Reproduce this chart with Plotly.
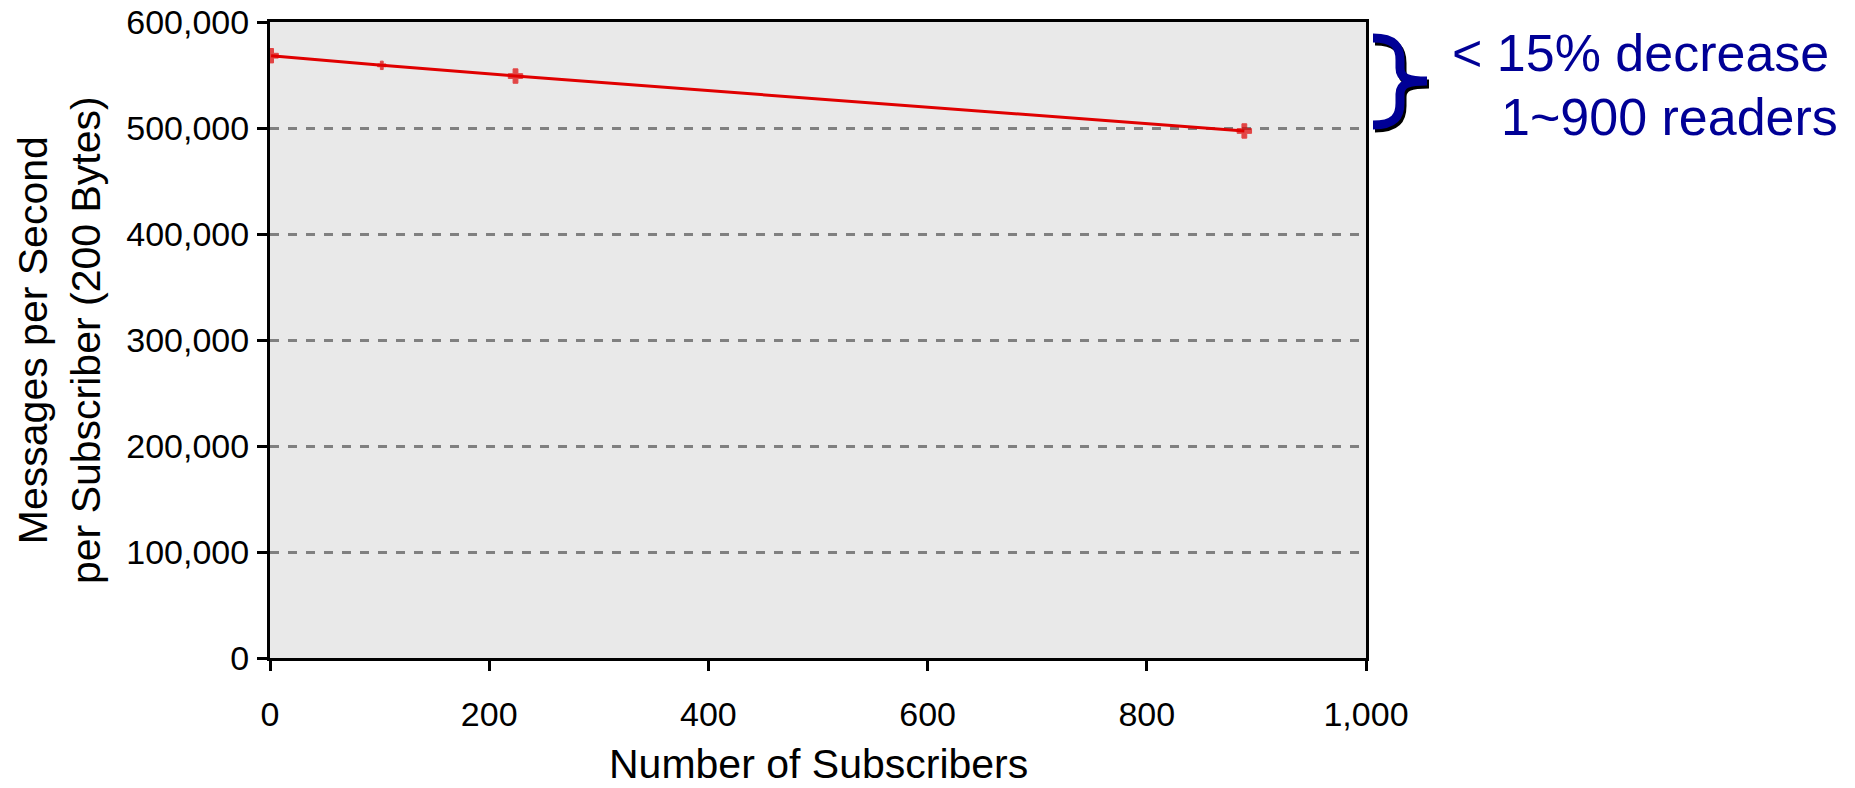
import plotly.graph_objects as go

# ---- data ----
subscribers = [1, 102, 224, 889]
msgs_per_sec = [568200, 559100, 549000, 497200]

x_tick_vals = [0, 200, 400, 600, 800, 1000]
y_tick_vals = [0, 100000, 200000, 300000, 400000, 500000, 600000]

x_title = "Number of Subscribers"
y_title = "Messages per Second<br>per Subscriber (200 Bytes)"
note_line1 = "< 15% decrease"
note_line2 = "1~900 readers"

# ---- layout geometry (pixels) ----
W, H = 1855, 788
L, R, T, B = 270, 1366, 22, 658
PW, PH = R - L, B - T


def px(X):
    return (X - L) / PW


def py(Y):
    return (B - Y) / PH


FONT = "Arial, 'Liberation Sans', sans-serif"

fig = go.Figure()
fig.add_trace(go.Scatter(
    x=subscribers, y=msgs_per_sec, mode="lines+markers",
    line=dict(color="#e00000", width=3),
    marker=dict(symbol="cross", size=[12, 7, 12, 12], color="#e00000",
                line=dict(width=1, color="#e00000")),
    showlegend=False, hoverinfo="x+y",
))

axis_common = dict(
    showline=True, linecolor="black", linewidth=3, mirror=True,
    ticks="outside", ticklen=10, tickwidth=3, tickcolor="black",
    tickfont=dict(family=FONT, size=34, color="black"),
    tickformat=",", zeroline=False, automargin=False,
)

fig.update_xaxes(range=[0, 1000], tickvals=x_tick_vals, showgrid=False,
                 ticklabelstandoff=14, **axis_common)
fig.update_yaxes(range=[0, 600000], tickvals=y_tick_vals, showgrid=True,
                 gridcolor="#808080", gridwidth=3, griddash="9px,9px",
                 ticklabelstandoff=1, **axis_common)

annotations = [
    dict(text=x_title, x=0.5, y=py(764), xref="paper", yref="paper",
         xanchor="center", yanchor="middle", showarrow=False,
         font=dict(family=FONT, size=41, color="black")),
    dict(text=y_title, x=px(59), y=0.5, xref="paper", yref="paper",
         xanchor="center", yanchor="middle", textangle=-90, showarrow=False,
         font=dict(family=FONT, size=41, color="black")),
    dict(text=note_line1, x=px(1450), y=py(53), xref="paper", yref="paper",
         xanchor="left", yanchor="middle", showarrow=False,
         font=dict(family=FONT, size=52, color="#000096")),
    dict(text=note_line2, x=px(1499), y=py(117), xref="paper", yref="paper",
         xanchor="left", yanchor="middle", showarrow=False,
         font=dict(family=FONT, size=52, color="#000096")),
]


def brace_path(dx=0.0, dy=0.0):
    pts = [
        ("M", [(1373, 38)]),
        ("C", [(1395, 38), (1400, 47), (1400, 60)]),
        ("L", [(1400, 68)]),
        ("C", [(1400, 78), (1408, 81), (1427, 81)]),
        ("C", [(1408, 81), (1400, 84), (1400, 94)]),
        ("L", [(1400, 103)]),
        ("C", [(1400, 116), (1395, 125), (1373, 125)]),
    ]
    s = ""
    for cmd, ps in pts:
        s += cmd + " " + " ".join(f"{px(X + dx):.5f},{py(Y + dy):.5f}" for X, Y in ps) + " "
    return s.strip()


shapes = [
    dict(type="path", path=brace_path(2, 3), xref="paper", yref="paper",
         line=dict(color="black", width=9)),
    dict(type="path", path=brace_path(), xref="paper", yref="paper",
         line=dict(color="#000096", width=9)),
]

fig.update_layout(
    width=W, height=H, autosize=False,
    margin=dict(l=L, r=W - R, t=T, b=H - B, pad=0, autoexpand=False),
    plot_bgcolor="#e9e9e9", paper_bgcolor="white",
    annotations=annotations, shapes=shapes,
)

fig.write_html(
    "out.html",
    config={"displayModeBar": False},
    post_script="document.body.style.margin='0';document.body.style.overflow='hidden';",
)
